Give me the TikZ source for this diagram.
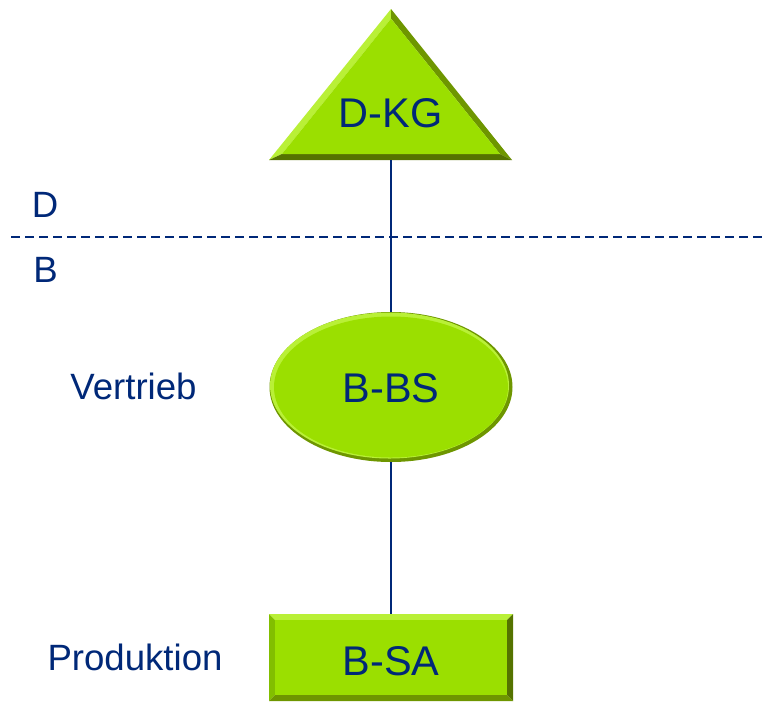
\documentclass[tikz,border=0pt]{standalone}
\usepackage{fontspec}
\setmainfont{Liberation Sans}
\usetikzlibrary{shapes.geometric}
\definecolor{txtblue}{RGB}{0,40,120}
\definecolor{gmain}{RGB}{155,223,0}
\definecolor{glight}{RGB}{185,240,55}
\definecolor{gmid}{RGB}{130,190,0}
\definecolor{gdark}{RGB}{110,150,0}
\definecolor{gdarker}{RGB}{85,115,0}
\tikzset{
  lbl/.style={text=txtblue, inner sep=0pt, font=\fontsize{36.6}{40}\selectfont},
  shapelbl/.style={text=txtblue, inner sep=0pt, font=\fontsize{41.5}{46}\selectfont},
  conn/.style={draw=txtblue, line width=1.2pt},
  sep/.style={draw=txtblue, line width=1.5pt, dash pattern=on 9pt off 5pt},
}
\begin{document}
\begin{tikzpicture}[x=1pt,y=-1pt]
\useasboundingbox (0,0) rectangle (762,702);
% triangle D-KG
\fill[glight] (391,9) -- (269,160) -- (282,154) -- (391,18.6) -- cycle;
\fill[gdark] (391,9) -- (512,160) -- (500,154) -- (391,18.6) -- cycle;
\fill[gdarker] (269,160) -- (512,160) -- (500,154) -- (282,154) -- cycle;
\fill[gmain] (391,18.6) -- (500,154) -- (282,154) -- cycle;
\coordinate (dkgbase) at (391,160);
\node[shapelbl] (dkg) at (390.5,113) {D-KG};
% ellipse B-BS
\fill[gdark] (391,387) ellipse [x radius=121.5, y radius=75];
\fill[glight] (389.5,385.5) ellipse [x radius=119.5, y radius=73];
\fill[gmain] (391,387) ellipse [x radius=117, y radius=70.5];
\node[ellipse, minimum width=243pt, minimum height=150pt, inner sep=0pt] (bbsshape) at (391,387) {};
\node[shapelbl] (bbs) at (391,388) {B-BS};
% rectangle B-SA
\fill[glight] (269,614) -- (513,614) -- (507,620) -- (275,620) -- cycle;
\fill[gmid] (269,614) -- (269,701) -- (275,695) -- (275,620) -- cycle;
\fill[gdarker] (513,614) -- (513,701) -- (507,695) -- (507,620) -- cycle;
\fill[gdark] (269,701) -- (513,701) -- (507,695) -- (275,695) -- cycle;
\fill[gmain] (275,620) rectangle (507,695);
\node[rectangle, minimum width=244pt, minimum height=87pt, inner sep=0pt] (bsashape) at (391,657.5) {};
\node[shapelbl] (bsa) at (391,661.5) {B-SA};
% connectors
\draw[conn] (dkgbase) -- (bbsshape.north);
\draw[conn] (bbsshape.south) -- (bsashape.north);
% separator
\coordinate (sepL) at (11,237);
\coordinate (sepR) at (762,237);
\draw[sep] (sepL) -- (sepR);
% labels
\node[lbl] (d) at (45,204.5) {D};
\node[lbl] (b) at (45.5,270) {B};
\node[lbl] (vertrieb) at (133.5,386) {Vertrieb};
\node[lbl] (produktion) at (135,657) {Produktion};
\end{tikzpicture}
\end{document}
